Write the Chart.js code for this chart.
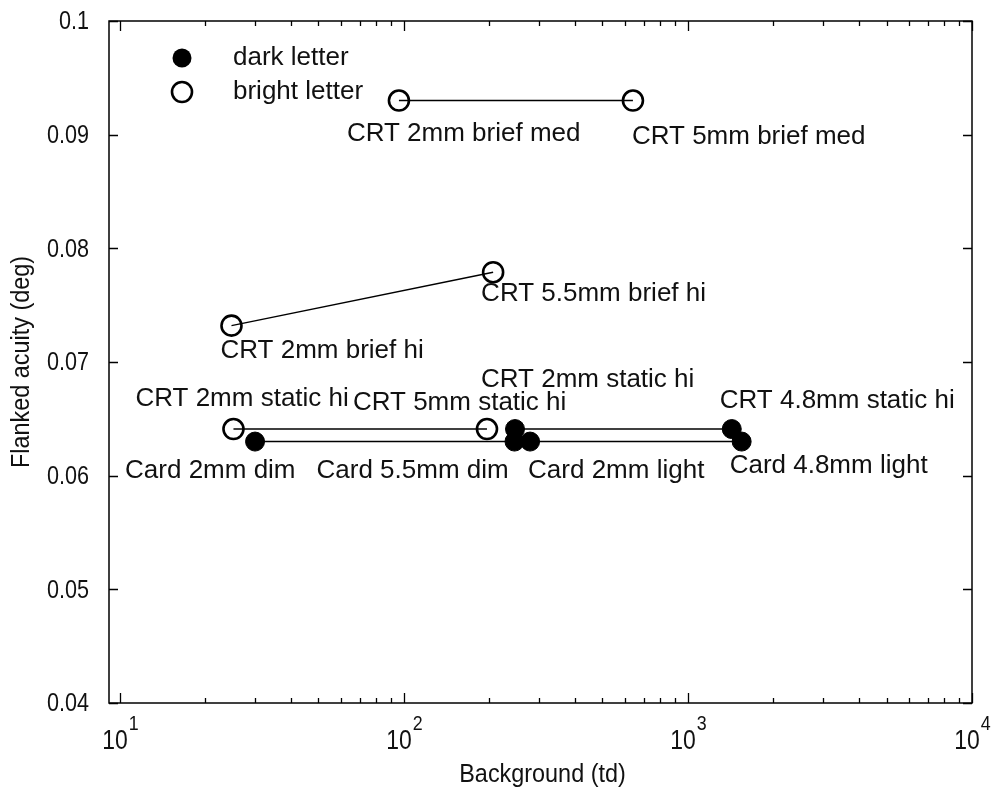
<!DOCTYPE html>
<html>
<head>
<meta charset="utf-8">
<script src="https://cdn.jsdelivr.net/npm/chart.js@4/dist/chart.umd.min.js"></script>
<style>
  html, body { margin: 0; padding: 0; background: #fff; }
  #wrap { width: 993px; height: 790px; }
</style>
</head>
<body>
<div id="wrap"><canvas id="c" width="993" height="790"></canvas></div>
<script>
// ---------- DATA ----------
const xMajorTicks = [10, 100, 1000, 10000];
const xMajorExponents = ['1', '2', '3', '4'];
const yTicks = [0.04, 0.05, 0.06, 0.07, 0.08, 0.09, 0.1];
const yTickLabels = ['0.04', '0.05', '0.06', '0.07', '0.08', '0.09', '0.1'];

const briefMedX = [96, 640];
const briefMedY = [0.093, 0.093];
const briefMedLabels = ['CRT 2mm brief med', 'CRT 5mm brief med'];

const briefHiX = [24.7, 206];
const briefHiY = [0.0732, 0.0779];
const briefHiLabels = ['CRT 2mm brief hi', 'CRT 5.5mm brief hi'];

const staticBrightX = [25.1, 196];
const staticBrightY = [0.0641, 0.0641];
const staticBrightLabels = ['CRT 2mm static hi', 'CRT 5mm static hi'];

const staticDarkX = [246, 1426];
const staticDarkY = [0.0641, 0.0641];
const staticDarkLabels = ['CRT 2mm static hi', 'CRT 4.8mm static hi'];

const cardDimX = [29.9, 245];
const cardDimY = [0.063, 0.063];
const cardDimLabels = ['Card 2mm dim', 'Card 5.5mm dim'];

const cardLightX = [278, 1545];
const cardLightY = [0.063, 0.063];
const cardLightLabels = ['Card 2mm light', 'Card 4.8mm light'];

const legendNames = ['dark letter', 'bright letter'];
const xTitle = 'Background (td)';
const yTitle = 'Flanked acuity (deg)';

// ---------- STYLE / LAYOUT ----------
const FONT = '"Liberation Sans", Arial, Helvetica, sans-serif';
const TEXT = '#111';
const labelOffsets = {
  briefMed: [[-52, 33], [-1, 36]],
  briefHi: [[-11, 25], [-12, 22]],
  staticBright: [[-98, -30], [-134, -26]],
  staticDark: [[-34, -49], [-12, -28]],
  cardDim: [[-130, 29], [-198, 29]],
  cardLight: [[-2, 29], [-12, 24]]
};

function pts(xs, ys) { return xs.map((x, i) => ({ x: x, y: ys[i] })); }

function mkSet(key, xs, ys, labels, filled) {
  return {
    key: key,
    ptLabels: labels,
    data: pts(xs, ys),
    showLine: true,
    borderColor: '#000',
    borderWidth: 1.4,
    pointRadius: filled ? 9.5 : 10,
    pointHoverRadius: filled ? 9.5 : 10,
    pointBorderWidth: filled ? 1 : 2.6,
    pointBorderColor: '#000',
    pointBackgroundColor: filled ? '#000' : 'rgba(0,0,0,0)',
    fill: false,
    tension: 0
  };
}

const datasets = [
  mkSet('briefMed', briefMedX, briefMedY, briefMedLabels, false),
  mkSet('briefHi', briefHiX, briefHiY, briefHiLabels, false),
  mkSet('staticBright', staticBrightX, staticBrightY, staticBrightLabels, false),
  mkSet('cardDim', cardDimX, cardDimY, cardDimLabels, true),
  mkSet('cardLight', cardLightX, cardLightY, cardLightLabels, true),
  mkSet('staticDark', staticDarkX, staticDarkY, staticDarkLabels, true)
];

// draw horizontally condensed text
function narrowText(ctx, text, x, y, sx, align) {
  ctx.save();
  const w = ctx.measureText(text).width * sx;
  let left = x;
  if (align === 'right') left = x - w;
  else if (align === 'center') left = x - w / 2;
  ctx.translate(left, y);
  ctx.scale(sx, 1);
  ctx.textAlign = 'left';
  ctx.fillText(text, 0, 0);
  ctx.restore();
  return w;
}

const decorPlugin = {
  id: 'decor',
  afterDatasetsDraw(chart) {
    const ctx = chart.ctx;
    const xs = chart.scales.x, ys = chart.scales.y;
    const a = chart.chartArea;
    ctx.save();
    ctx.fillStyle = TEXT;
    ctx.strokeStyle = '#000';

    // point labels
    ctx.font = '26px ' + FONT;
    ctx.textAlign = 'left';
    ctx.textBaseline = 'middle';
    chart.data.datasets.forEach(ds => {
      const offs = labelOffsets[ds.key];
      ds.data.forEach((p, i) => {
        const px = xs.getPixelForValue(p.x), py = ys.getPixelForValue(p.y);
        ctx.fillText(ds.ptLabels[i], px + offs[i][0], py + offs[i][1]);
      });
    });

    // axes box
    ctx.lineWidth = 1.5;
    ctx.strokeRect(a.left, a.top, a.right - a.left, a.bottom - a.top);

    // x ticks (inward, bottom and top)
    ctx.lineWidth = 1.3;
    const minor = [];
    [10, 100, 1000].forEach(dec => { for (let m = 2; m <= 9; m++) minor.push(dec * m); });
    ctx.beginPath();
    minor.forEach(v => {
      const px = Math.round(xs.getPixelForValue(v)) + 0.5;
      ctx.moveTo(px, a.bottom); ctx.lineTo(px, a.bottom - 5);
      ctx.moveTo(px, a.top); ctx.lineTo(px, a.top + 5);
    });
    xMajorTicks.forEach(v => {
      const px = Math.round(xs.getPixelForValue(v)) + 0.5;
      ctx.moveTo(px, a.bottom); ctx.lineTo(px, a.bottom - 10);
      ctx.moveTo(px, a.top); ctx.lineTo(px, a.top + 10);
    });
    // y ticks (inward, left and right)
    yTicks.forEach(v => {
      const py = Math.round(ys.getPixelForValue(v)) + 0.5;
      ctx.moveTo(a.left, py); ctx.lineTo(a.left + 9, py);
      ctx.moveTo(a.right, py); ctx.lineTo(a.right - 9, py);
    });
    ctx.stroke();

    // y tick labels
    ctx.font = '26px ' + FONT;
    ctx.textBaseline = 'middle';
    yTicks.forEach((v, i) => {
      narrowText(ctx, yTickLabels[i], a.left - 20, ys.getPixelForValue(v) + 1, 0.83, 'right');
    });

    // x tick labels with superscripts
    ctx.textBaseline = 'alphabetic';
    xMajorTicks.forEach((v, i) => {
      const px = xs.getPixelForValue(v);
      ctx.font = '27px ' + FONT;
      const wb = ctx.measureText('10').width * 0.85;
      ctx.font = '21px ' + FONT;
      const we = ctx.measureText(xMajorExponents[i]).width * 0.85;
      const left = px - (wb + we) / 2;
      ctx.font = '27px ' + FONT;
      narrowText(ctx, '10', left, a.bottom + 46, 0.85, 'left');
      ctx.font = '21px ' + FONT;
      narrowText(ctx, xMajorExponents[i], left + wb + 1, a.bottom + 27, 0.85, 'left');
    });

    // axis titles
    ctx.font = '26px ' + FONT;
    ctx.textBaseline = 'middle';
    narrowText(ctx, xTitle, (a.left + a.right) / 2 + 2, a.bottom + 72, 0.9, 'center');
    ctx.save();
    ctx.translate(22, (a.top + a.bottom) / 2);
    ctx.rotate(-Math.PI / 2);
    narrowText(ctx, yTitle, 0, 0, 0.9, 'center');
    ctx.restore();

    // legend
    const lx = a.left + 73, ly1 = a.top + 37, ly2 = a.top + 71;
    ctx.fillStyle = '#000';
    ctx.beginPath();
    ctx.arc(lx, ly1, 9.5, 0, Math.PI * 2);
    ctx.fill();
    ctx.beginPath();
    ctx.lineWidth = 2.6;
    ctx.arc(lx, ly2, 10, 0, Math.PI * 2);
    ctx.stroke();
    ctx.fillStyle = TEXT;
    ctx.font = '26px ' + FONT;
    ctx.textAlign = 'left';
    ctx.textBaseline = 'middle';
    ctx.fillText(legendNames[0], lx + 51, ly1);
    ctx.fillText(legendNames[1], lx + 51, ly2);

    ctx.restore();
  }
};

new Chart(document.getElementById('c'), {
  type: 'scatter',
  data: { datasets: datasets },
  options: {
    responsive: false,
    animation: false,
    events: [],
    layout: { padding: { left: 109, right: 21, top: 21, bottom: 87 } },
    plugins: { legend: { display: false }, tooltip: { enabled: false } },
    scales: {
      x: { type: 'logarithmic', min: 9.15, max: 10000, display: false },
      y: { type: 'linear', min: 0.04, max: 0.1, display: false }
    }
  },
  plugins: [decorPlugin]
});
</script>
</body>
</html>
